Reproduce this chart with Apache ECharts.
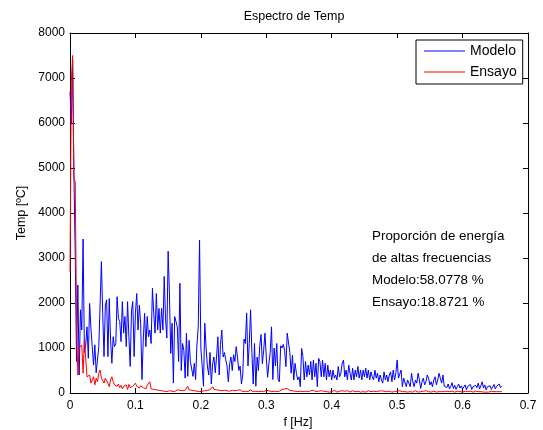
<!DOCTYPE html>
<html><head><meta charset="utf-8">
<script src="https://cdn.jsdelivr.net/npm/echarts@6/dist/echarts.min.js"></script>
<style>html,body{margin:0;padding:0;background:#fff}#c{width:543px;height:430px}</style>
</head><body><div id="c"></div>
<script>
// frequency resolution of the spectrum (Hz per bin)
const df = 0.002;
const titleText = 'Espectro de Temp';
const xLabel = 'f [Hz]';
const yLabel = 'Temp [ºC]';
const seriesNames = ['Modelo', 'Ensayo'];
const noteLines = ['Proporción de energía', 'de altas frecuencias', 'Modelo:58.0778 %', 'Ensayo:18.8721 %'];
const xTicks = [0, 0.1, 0.2, 0.3, 0.4, 0.5, 0.6, 0.7];
const yTicks = [0, 1000, 2000, 3000, 4000, 5000, 6000, 7000, 8000];

const modelo = [
6700,6000,7410,4840,3100,700,2400,400,1850,1400,
3420,900,1070,1470,770,1990,1440,1030,620,1070,
450,470,1030,1950,2920,1770,810,1950,2070,810,
2100,1180,660,1250,1030,1100,2140,1660,1590,1140,
2030,1330,1700,1030,2030,1250,590,1840,2030,810,
1770,2210,1400,1950,1550,300,1180,1770,1030,1700,
1250,1400,1100,2330,1770,1330,2210,1400,1880,1330,
1880,1400,2590,1660,1220,3150,2180,880,1550,220,
1700,1590,1470,700,2440,500,1100,950,330,1330,
370,1170,700,740,370,660,300,1070,1470,3400,
1000,600,150,1550,1000,600,400,900,200,650,
800,450,800,1250,400,1080,1400,800,900,740,
600,250,650,800,500,850,700,1030,800,500,
600,200,400,1200,1100,1780,600,1100,1850,900,
200,1100,150,800,500,1050,1300,650,950,1330,
800,350,650,900,1470,300,1000,600,1100,300,
250,1050,1000,1080,950,585,1330,1360,900,440,
840,290,660,440,290,360,140,990,810,290,
700,360,620,400,700,290,730,360,660,140,
770,700,360,730,360,660,290,620,360,510,
290,510,330,400,290,590,360,440,660,730,
360,510,290,620,440,290,550,290,510,360,
590,330,510,290,510,360,550,330,510,290,
470,360,290,510,330,440,250,400,290,220,
470,290,400,250,400,470,250,510,290,440,
730,330,360,510,140,330,290,140,290,330,
140,440,250,140,290,220,440,290,100,250,
330,180,250,400,330,180,250,140,290,360,
180,290,440,330,220,400,150,180,120,200,
90,150,230,100,170,80,140,200,110,160,
90,130,180,70,150,110,190,80,140,100,
170,120,220,90,160,250,110,180,70,140,
100,160,80,130,190,90,150,110,200,120,
150
];

const ensayo = [
2700,6900,7500,4750,4700,1500,400,1000,1030,1070,
440,1180,1180,360,330,400,220,290,360,180,
330,250,440,510,330,360,220,330,290,220,
140,290,360,250,180,220,150,200,120,170,
90,150,110,180,80,190,120,90,150,170,
220,150,190,110,160,200,120,150,90,170,
130,250,90,60,80,50,70,40,60,30,
50,80,40,60,30,70,50,90,40,60,
30,50,70,40,60,30,50,80,60,100,
150,70,40,60,30,50,70,40,60,30,
50,40,70,50,30,60,40,70,90,140,
80,50,70,40,60,30,50,40,60,30,
50,70,40,30,60,40,50,30,60,40,
70,50,30,50,40,60,30,50,70,40,
30,50,40,60,30,50,40,60,30,40,
60,30,50,40,30,50,40,60,30,50,
40,60,80,60,90,70,100,80,60,90,
50,70,40,60,30,50,40,60,30,50,
40,60,30,40,50,30,60,40,30,50,
40,30,50,20,40,60,30,40,20,50,
30,40,60,30,20,50,40,30,50,20,
40,30,50,40,20,30,50,40,30,60,
40,30,20,50,30,40,20,30,50,40,
30,20,40,50,30,20,40,30,50,30,
40,20,30,50,40,30,20,40,30,60,
40,30,50,20,30,40,30,50,20,40,
30,40,20,30,50,30,20,40,30,20,
40,30,50,20,30,40,20,30,40,30,
20,40,30,20,30,50,30,20,40,30,
30,20,40,30,20,30,40,20,30,40,
20,30,40,20,30,20,40,30,20,30,
40,20,30,20,30,40,20,30,20,30,
20,30,40,20,30,20,30,20,30,20,
30
];

const FONT = '"Liberation Sans", Arial, Helvetica, sans-serif';
const toPairs = arr => arr.map((v, i) => [+(i * df).toFixed(4), v]);

const chart = echarts.init(document.getElementById('c'), null, {renderer: 'canvas'});

const xMin = xTicks[0], xMax = xTicks[xTicks.length - 1], xInt = xTicks[1] - xTicks[0];
const yMin = yTicks[0], yMax = yTicks[yTicks.length - 1], yInt = yTicks[1] - yTicks[0];

const axisCommon = {
  axisLine: {show: true, onZero: false, lineStyle: {color: '#000', width: 1}},
  axisTick: {show: true, inside: true, length: 5, lineStyle: {color: '#000', width: 1}},
  splitLine: {show: false}
};

chart.setOption({
  animation: false,
  backgroundColor: '#fff',
  grid: {left: 70, top: 33, width: 458, height: 360, containLabel: false},
  xAxis: [
    Object.assign({type: 'value', position: 'bottom', min: xMin, max: xMax, interval: xInt,
      axisLabel: {show: true, color: '#000', fontSize: 12, fontFamily: FONT, margin: 7,
        formatter: v => String(+v.toFixed(1))}}, axisCommon),
    Object.assign({type: 'value', position: 'top', min: xMin, max: xMax, interval: xInt,
      axisLabel: {show: false}}, axisCommon)
  ],
  yAxis: [
    Object.assign({type: 'value', position: 'left', min: yMin, max: yMax, interval: yInt,
      axisLabel: {show: true, color: '#000', fontSize: 12, fontFamily: FONT, margin: 5,
        formatter: v => String(v)}}, axisCommon),
    Object.assign({type: 'value', position: 'right', min: yMin, max: yMax, interval: yInt,
      axisLabel: {show: false}}, axisCommon)
  ],
  legend: {
    orient: 'vertical', left: 416, top: 40,
    data: seriesNames.map(n => ({name: n, icon: 'rect'})),
    itemWidth: 41, itemHeight: 1, itemGap: 7,
    padding: [4, 6, 5, 8],
    borderColor: '#000', borderWidth: 1, borderRadius: 0,
    backgroundColor: '#fff',
    textStyle: {color: '#000', fontSize: 14, lineHeight: 14, fontFamily: FONT}
  },
  series: [
    {name: seriesNames[0], type: 'line', xAxisIndex: 0, yAxisIndex: 0, data: toPairs(modelo),
      symbol: 'none', showSymbol: false, lineStyle: {color: '#0000ff', width: 1}, itemStyle: {color: '#0000ff'}, z: 2},
    {name: seriesNames[1], type: 'line', xAxisIndex: 0, yAxisIndex: 0, data: toPairs(ensayo),
      symbol: 'none', showSymbol: false, lineStyle: {color: '#ff0000', width: 1}, itemStyle: {color: '#ff0000'}, z: 3}
  ],
  graphic: [
    {type: 'text', x: 294, y: 17, style: {text: titleText, fill: '#000', font: '12.5px ' + FONT, textAlign: 'center', textVerticalAlign: 'middle'}},
    {type: 'text', x: 298, y: 423, style: {text: xLabel, fill: '#000', font: '12.5px ' + FONT, textAlign: 'center', textVerticalAlign: 'middle'}},
    {type: 'text', x: 22, y: 213, rotation: Math.PI / 2, style: {text: yLabel, fill: '#000', font: '12.5px ' + FONT, textAlign: 'center', textVerticalAlign: 'middle'}},
  ].concat(noteLines.map((t, k) => ({
    type: 'text', x: 372, y: 236 + k * 22,
    style: {text: t, fill: '#000', font: '13.4px ' + FONT, textAlign: 'left', textVerticalAlign: 'middle'}
  })))
});
</script>
</body></html>
